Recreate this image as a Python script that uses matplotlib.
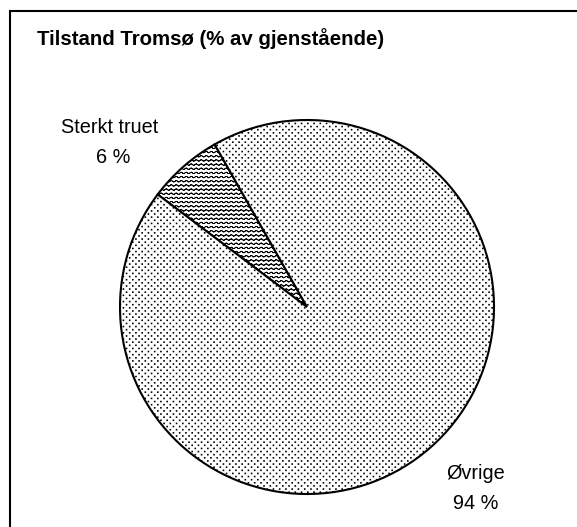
import warnings
import numpy as np
import matplotlib
matplotlib.use("Agg")
import matplotlib.pyplot as plt
import matplotlib.hatch as mhatch
from matplotlib.path import Path
from matplotlib.patches import Rectangle

warnings.filterwarnings("ignore")

# ---------------- data ----------------
title = "Tilstand Tromsø (% av gjenstående)"
categories = ["Sterkt truet", "Øvrige"]
values = [6.5, 93.5]
pct_labels = ["6 %", "94 %"]


# ---------------- custom hatches ----------------
class WavyHatch(mhatch.HatchPatternBase):
    periods = 20
    seg_per_period = 8

    def __init__(self, hatch, density):
        self.num_lines = 24 if '~' in hatch else 0
        self.pts = self.periods * self.seg_per_period + 1
        self.num_vertices = self.num_lines * self.pts * 2

    def set_vertices_and_codes(self, vertices, codes):
        if self.num_lines == 0:
            return
        steps = (np.arange(self.num_lines) + 0.5) / self.num_lines
        x = np.linspace(0.0, 1.0, self.pts)
        amp = 0.007
        wave = amp * np.sin(2 * np.pi * self.periods * x)
        xs = np.concatenate([x, x[::-1]])
        ws = np.concatenate([wave, wave[::-1]])
        n = 2 * self.pts
        for i, s in enumerate(steps):
            sl = slice(i * n, (i + 1) * n)
            vertices[sl, 0] = xs
            vertices[sl, 1] = s + ws
            codes[sl] = Path.LINETO
            codes[i * n] = Path.MOVETO


class DotGridHatch(mhatch.HatchPatternBase):
    cols = 16
    rows = 32
    half = 0.0038

    def __init__(self, hatch, density):
        self.on = ':' in hatch
        self.num_vertices = self.cols * self.rows * 5 if self.on else 0

    def set_vertices_and_codes(self, vertices, codes):
        if not self.on:
            return
        h = self.half
        sq = np.array([[-h, -h], [h, -h], [h, h], [-h, h], [-h, -h]])
        k = 0
        for r in range(self.rows):
            y = (r + 0.5) / self.rows
            for c in range(self.cols):
                x = (c + 0.25 + 0.5 * (r % 2)) / self.cols
                vertices[k:k + 5] = sq + [x, y]
                codes[k] = Path.MOVETO
                codes[k + 1:k + 4] = Path.LINETO
                codes[k + 4] = Path.CLOSEPOLY
                k += 5


for cls in (WavyHatch, DotGridHatch):
    if cls not in mhatch._hatch_types:
        mhatch._hatch_types.append(cls)

plt.rcParams['font.family'] = ['Liberation Sans', 'DejaVu Sans']
plt.rcParams['hatch.linewidth'] = 0.6

W, H = 577, 527
fig = plt.figure(figsize=(W / 100, H / 100), dpi=100)
ax = fig.add_axes([0, 0, 1, 1])


def Y(y):
    return H - y


hatches = ["~", ":"]
wedges, _ = ax.pie(values, startangle=143, counterclock=False,
                   center=(307, Y(307)), radius=187,
                   colors=["white", "white"],
                   wedgeprops=dict(edgecolor="black", linewidth=1.5))
for w, h in zip(wedges, hatches):
    w.set_hatch(h)

ax.set_xlim(0, W)
ax.set_ylim(0, H)
ax.set_aspect('equal')
ax.axis('off')

# frame
ax.add_patch(Rectangle((10, -20), W + 20, Y(11) + 20, fill=False,
                       edgecolor="black", linewidth=1.5, clip_on=False))

# title
ax.text(37, Y(45), title, fontsize=14.7, fontweight='bold', ha='left', va='baseline')

# labels
fs = 14.3
ax.text(110, Y(133), categories[0], fontsize=fs, ha='center', va='baseline')
ax.text(113, Y(163), pct_labels[0], fontsize=fs, ha='center', va='baseline')
ax.text(476, Y(479), categories[1], fontsize=fs, ha='center', va='baseline')
ax.text(476, Y(509), pct_labels[1], fontsize=fs, ha='center', va='baseline')

fig.savefig("out.png", dpi=100)
